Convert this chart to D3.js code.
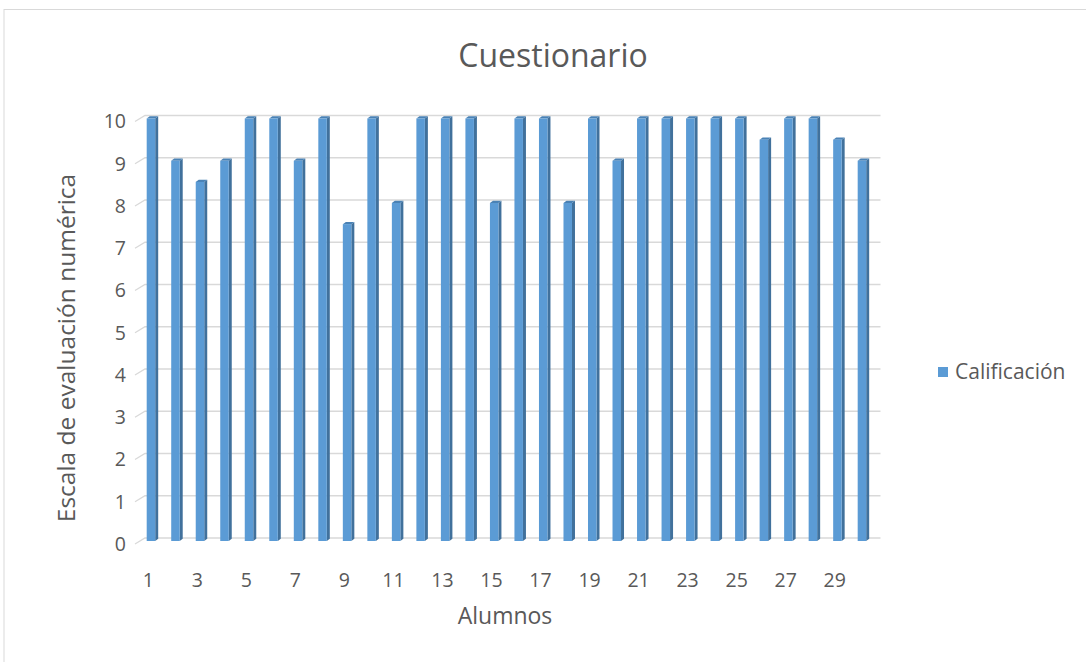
<!DOCTYPE html>
<html>
<head>
<meta charset="utf-8">
<script src="https://cdn.jsdelivr.net/npm/d3@7"></script>
<style>
  body { margin: 0; background: #fff; }
  svg text { font-family: "Open Sans", "Noto Sans", sans-serif; fill: #595959; }
</style>
</head>
<body>
<div id="chart"></div>
<script>
// chart data
const alumnos = d3.range(1, 31);
const calificacion = [10, 9, 8.5, 9, 10, 10, 9, 10, 7.5, 10, 8, 10, 10, 10, 8,
                      10, 10, 8, 10, 9, 10, 10, 10, 10, 10, 9.5, 10, 10, 9.5, 9];
const yTicks = [0, 1, 2, 3, 4, 5, 6, 7, 8, 9, 10];
const xTickLabels = alumnos.filter(d => d % 2 === 1);

const width = 1086, height = 662;
const svg = d3.select('#chart').append('svg')
  .attr('width', width)
  .attr('height', height);

// outer chart border
svg.append('rect')
  .attr('x', 4).attr('y', 9.5)
  .attr('width', width + 10).attr('height', height + 10)
  .attr('fill', 'none')
  .attr('stroke', '#d9d9d9');

// scales (front plane)
const x = d3.scaleBand()
  .domain(alumnos)
  .range([135, 870.5]);

const y = d3.scaleLinear()
  .domain([0, 10])
  .range([544, 121.5]);

// depth of the 3d floor / back wall
const depth = { dx: 10, dy: -6 };

// gridlines: short slant on side wall + line along back wall
const grid = svg.append('g');
yTicks.forEach(v => {
  const yy = y(v);
  grid.append('path')
    .attr('d', `M${x.range()[0]},${yy}L${x.range()[0] + depth.dx},${yy + depth.dy}L${x.range()[1] + depth.dx},${yy + depth.dy}`)
    .attr('fill', 'none')
    .attr('stroke', '#d9d9d9')
    .attr('stroke-width', 1.3);
});

// y axis labels
svg.append('g').selectAll('text')
  .data(yTicks)
  .enter().append('text')
    .attr('x', 126)
    .attr('y', d => y(d))
    .attr('dy', '0.35em')
    .attr('text-anchor', 'end')
    .style('font-size', '19.5px')
    .text(d => d);

// x axis labels
svg.append('g').selectAll('text')
  .data(xTickLabels)
  .enter().append('text')
    .attr('x', d => x(d) + x.bandwidth() / 2 + 1)
    .attr('y', 580)
    .attr('dy', '0.35em')
    .attr('text-anchor', 'middle')
    .style('font-size', '19.5px')
    .text(d => d);

// bars, drawn as small 3d columns
const faceW = 8.5, sideW = 3, sideH = -2.2;
const bars = svg.append('g').selectAll('g')
  .data(calificacion)
  .enter().append('g')
    .attr('transform', (d, i) => `translate(${x(alumnos[i]) + 11.7},-3)`);

// side face
bars.append('path')
  .attr('d', d => `M${faceW},${y(d)}L${faceW + sideW},${y(d) + sideH}L${faceW + sideW},${y(0) + sideH}L${faceW},${y(0)}Z`)
  .attr('fill', '#41719c');

// top face
bars.append('path')
  .attr('d', d => `M0,${y(d)}L${sideW},${y(d) + sideH}L${faceW + sideW},${y(d) + sideH}L${faceW},${y(d)}Z`)
  .attr('fill', '#4a82b5');

// front face
bars.append('rect')
  .attr('x', 0)
  .attr('y', d => y(d))
  .attr('width', faceW)
  .attr('height', d => y(0) - y(d))
  .attr('fill', '#5b9bd5');

// titles
svg.append('text')
  .attr('x', 553).attr('y', 56)
  .attr('dy', '0.35em')
  .attr('text-anchor', 'middle')
  .style('font-size', '32px')
  .text('Cuestionario');

svg.append('text')
  .attr('x', 505).attr('y', 616)
  .attr('dy', '0.35em')
  .attr('text-anchor', 'middle')
  .style('font-size', '23px')
  .text('Alumnos');

svg.append('text')
  .attr('transform', 'translate(66,348) rotate(-90)')
  .attr('dy', '0.35em')
  .attr('text-anchor', 'middle')
  .style('font-size', '24.5px')
  .text('Escala de evaluación numérica');

// legend
const legend = svg.append('g').attr('transform', 'translate(938,367)');
legend.append('rect')
  .attr('width', 10).attr('height', 10)
  .attr('fill', '#5b9bd5');
legend.append('text')
  .attr('x', 17).attr('y', 5)
  .attr('dy', '0.35em')
  .style('font-size', '21px')
  .text('Calificación');
</script>
</body>
</html>
